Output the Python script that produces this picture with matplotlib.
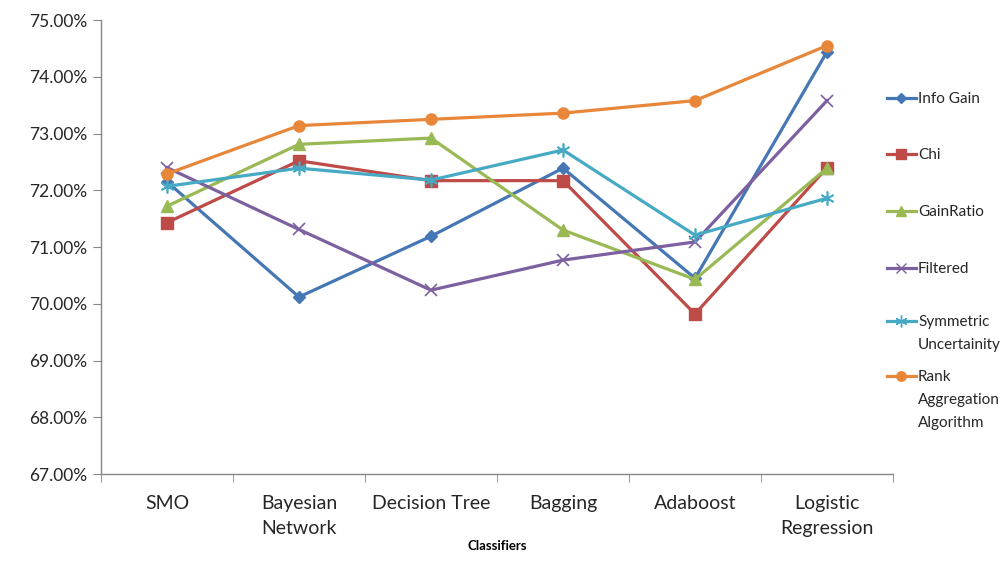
import matplotlib
matplotlib.use("Agg")
import matplotlib.pyplot as plt
from matplotlib.lines import Line2D
from matplotlib.ticker import FuncFormatter, FixedLocator, NullFormatter
import numpy as np

plt.rcParams['font.family'] = ['Lato', 'DejaVu Sans']

categories = ["SMO", "Bayesian\nNetwork", "Decision Tree", "Bagging", "Adaboost", "Logistic\nRegression"]
info_gain = [72.15, 70.12, 71.19, 72.39, 70.45, 74.44]
chi = [71.43, 72.52, 72.17, 72.17, 69.82, 72.40]
gain_ratio = [71.72, 72.81, 72.92, 71.30, 70.43, 72.39]
filtered = [72.40, 71.31, 70.24, 70.77, 71.09, 73.58]
symmetric = [72.07, 72.39, 72.18, 72.71, 71.21, 71.86]
rank_agg = [72.29, 73.14, 73.25, 73.36, 73.58, 74.55]

labels = ["Info Gain", "Chi", "GainRatio", "Filtered", "Symmetric\nUncertainity", "Rank\nAggregation\nAlgorithm"]
series = [info_gain, chi, gain_ratio, filtered, symmetric, rank_agg]
colors = ["#4677B5", "#BE4B48", "#98B954", "#7D60A0", "#46AAC5", "#E8873A"]
markers = ["D", "s", "^", "x", (6, 2, 0), "o"]
msizes = [6, 8, 8, 9, 10, 8]

fig = plt.figure(figsize=(10.07, 5.61), dpi=100)
ax = fig.add_axes([0.1003, 0.155, 0.7865, 0.8093])

x = np.arange(len(categories))
for vals, c, m, ms in zip(series, colors, markers, msizes):
    ax.plot(x, vals, color=c, lw=2.3, marker=m, markersize=ms,
            markerfacecolor=c, markeredgecolor=c, markeredgewidth=1.2 if m in ("x", (6, 2, 0)) else 1)

ax.set_xlim(-0.5, len(categories) - 0.5)
ax.set_ylim(67, 75)
ax.set_yticks(np.arange(67, 75.01, 1))
ax.yaxis.set_major_formatter(FuncFormatter(lambda v, p: f"{v:.2f}%"))
ax.set_xticks(x)
ax.set_xticklabels(categories, fontsize=14, color="#262626", linespacing=1.6)
ax.xaxis.set_minor_locator(FixedLocator(np.arange(-0.5, len(categories), 1)))
ax.xaxis.set_minor_formatter(NullFormatter())
ax.tick_params(axis='x', which='major', length=0, pad=15)
ax.tick_params(axis='x', which='minor', length=6, color="#868686", direction='out')
ax.tick_params(axis='y', length=6, color="#868686", labelsize=12.5, labelcolor="#262626", pad=4)
for s in ["top", "right"]:
    ax.spines[s].set_visible(False)
for s in ["left", "bottom"]:
    ax.spines[s].set_color("#868686")
    ax.spines[s].set_linewidth(1)
ax.set_xlabel("Classifiers", fontsize=9.5, fontweight="bold", labelpad=2)

# manual legend
W, H = 1007, 561
leg_y = [98, 154, 211, 268, 321, 376]
for lab, c, m, ms, yy in zip(labels, colors, markers, msizes, leg_y):
    yf = 1 - yy / H
    x0, x1 = 887 / W, 916 / W
    fig.add_artist(Line2D([x0, (x0 + x1) / 2, x1], [yf, yf, yf], color=c, lw=2.3,
                          marker=m, markersize=ms * 0.85, markevery=[1],
                          markerfacecolor=c, markeredgecolor=c, transform=fig.transFigure))
    fig.text(918 / W, 1 - (yy - 6) / H, lab, fontsize=11, color="#262626", va="top",
             ha="left", linespacing=1.8, transform=fig.transFigure)

fig.savefig("out.png", dpi=100)
